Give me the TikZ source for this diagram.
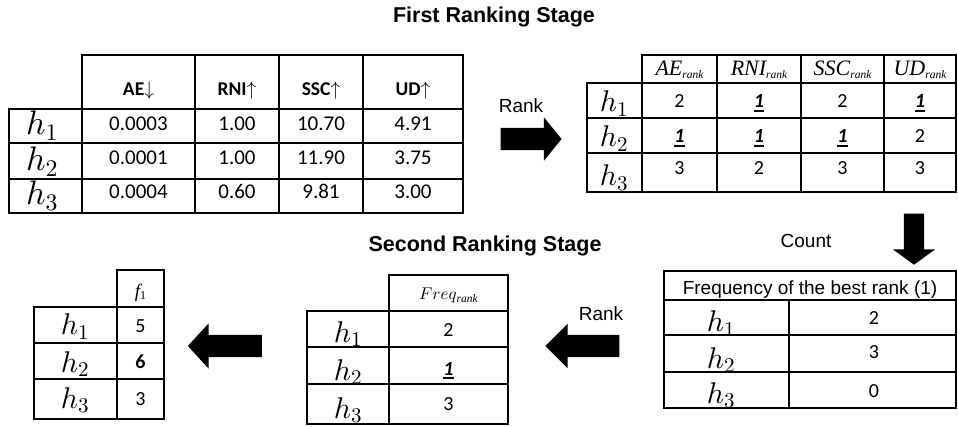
\documentclass[tikz,border=0pt]{standalone}
\usepackage[no-math]{fontspec}
\setmainfont{Carlito}
\newfontfamily\arial{Liberation Sans}
\newfontfamily\tnr{Liberation Serif}
\DeclareFontShape{OML}{cmm}{m}{it}{<->cmmi10}{}
\DeclareFontShape{OT1}{cmr}{m}{n}{<->cmr10}{}
\DeclareFontShape{OMS}{cmsy}{m}{n}{<->cmsy10}{}
\DeclareFontShape{OMX}{cmex}{m}{n}{<->cmex10}{}
\usetikzlibrary{shapes.arrows}
\newcommand\bul[1]{\leavevmode\setbox0=\hbox{\bfseries\itshape #1}\vtop{\copy0\kern1.8pt\hrule height 2pt width \wd0}}
\newcommand\rsub[1]{\raisebox{-3pt}{\tnr\itshape\fontsize{11.5}{12}\selectfont #1}}
\begin{document}
\begin{tikzpicture}[x=1pt,y=-1pt,
  tbl/.style={line width=1.7pt, line cap=rect},
  num/.style={font=\fontsize{21}{21}\selectfont, anchor=base, inner sep=0},
  snum/.style={font=\fontsize{20}{20}\selectfont, anchor=base, inner sep=0},
  hbig/.style={font=\fontsize{34}{34}\selectfont, anchor=base, inner sep=0},
  hh/.style={font=\fontsize{30}{30}\selectfont, anchor=base, inner sep=0},
  hd/.style={font=\fontsize{19.5}{20}\selectfont\bfseries, anchor=base, inner sep=0},
  th/.style={font=\tnr\itshape\fontsize{22}{22}\selectfont, anchor=base, inner sep=0},
  lab/.style={font=\arial\fontsize{19}{19}\selectfont, anchor=base, inner sep=0},
  ttl/.style={font=\arial\bfseries\fontsize{21.5}{22}\selectfont, anchor=base, inner sep=0},
  blk/.style={single arrow, fill=black, draw=none, inner xsep=0pt, inner ysep=11pt, single arrow head extend=10.5pt}]
\useasboundingbox (0,0) rectangle (958,427);

% titles
\node[ttl] (title1) at (494,23) {First Ranking Stage};
\node[ttl] (title2) at (485,252) {Second Ranking Stage};

% ---------- Table 1 ----------
\draw[tbl] (82,55) -- (463,55);
\foreach \y in {109,143,179,213} \draw[tbl] (9,\y) -- (463,\y);
\draw[tbl] (9,109) -- (9,213);
\foreach \x in {82,195,279,363,463} \draw[tbl] (\x,55) -- (\x,213);
\node[hd] (t1ae) at (138.5,96) {AE$\downarrow$};
\node[hd] (t1rni) at (237,96) {RNI$\uparrow$};
\node[hd] (t1ssc) at (321,96) {SSC$\uparrow$};
\node[hd] (t1ud) at (413,96) {UD$\uparrow$};
\node[hbig] (t1h1) at (42,135) {$h_1$};
\node[hbig] (t1h2) at (42,171) {$h_2$};
\node[hbig] (t1h3) at (42,205) {$h_3$};
\node[num] (t1a1) at (138.5,131) {0.0003};
\node[num] (t1b1) at (237,131) {1.00};
\node[num] (t1c1) at (321,131) {10.70};
\node[num] (t1d1) at (413,131) {4.91};
\node[num] (t1a2) at (138.5,165) {0.0001};
\node[num] (t1b2) at (237,165) {1.00};
\node[num] (t1c2) at (321,165) {11.90};
\node[num] (t1d2) at (413,165) {3.75};
\node[num] (t1a3) at (138.5,199) {0.0004};
\node[num] (t1b3) at (237,199) {0.60};
\node[num] (t1c3) at (321,199) {9.81};
\node[num] (t1d3) at (413,199) {3.00};

% ---------- Arrow 1 (right) ----------
\node[lab] (rank1) at (521,113) {Rank};
\node[blk, minimum height=61pt, single arrow tip angle=102] (arrR) at (526.5,139) {};

% ---------- Table 2 ----------
\draw[tbl] (642,55) -- (956,55);
\foreach \y in {83,118,153,192} \draw[tbl] (587,\y) -- (956,\y);
\draw[tbl] (587,83) -- (587,192);
\foreach \x in {642,717,801,884,956} \draw[tbl] (\x,55) -- (\x,192);
\node[th] (t2ae) at (679.5,76) {AE\rsub{rank}};
\node[th] (t2rni) at (759,76) {RNI\rsub{rank}};
\node[th] (t2ssc) at (842.5,76) {SSC\rsub{rank}};
\node[th] (t2ud) at (920,76) {UD\rsub{rank}};
\node[hh] (t2h1) at (614,112) {$h_1$};
\node[hh] (t2h2) at (614,147) {$h_2$};
\node[hh] (t2h3) at (614,186) {$h_3$};
\node[snum] (t2a1) at (679.5,108) {2};
\node[snum] (t2b1) at (759,108) {\bul{1}};
\node[snum] (t2c1) at (842.5,108) {2};
\node[snum] (t2d1) at (920,108) {\bul{1}};
\node[snum] (t2a2) at (679.5,143) {\bul{1}};
\node[snum] (t2b2) at (759,143) {\bul{1}};
\node[snum] (t2c2) at (842.5,143) {\bul{1}};
\node[snum] (t2d2) at (920,143) {2};
\node[snum] (t2a3) at (679.5,175) {3};
\node[snum] (t2b3) at (759,175) {2};
\node[snum] (t2c3) at (842.5,175) {3};
\node[snum] (t2d3) at (920,175) {3};

% ---------- Arrow 2 (down) ----------
\node[lab] (count) at (806,248) {Count};
\node[blk, minimum height=51pt, inner ysep=10pt, single arrow head extend=11pt, single arrow tip angle=108, rotate=-90] (arrD) at (914,235.5) {};

% ---------- Table 3 ----------
\draw[tbl] (664,271) rectangle (956,408);
\foreach \y in {300,335,372} \draw[tbl] (664,\y) -- (956,\y);
\draw[tbl] (789,300) -- (789,408);
\node[lab] (t3head) at (810,295) {Frequency of the best rank (1)};
\node[hh] (t3h1) at (721,332) {$h_1$};
\node[hh] (t3h2) at (721,368) {$h_2$};
\node[hh] (t3h3) at (721,403) {$h_3$};
\node[snum] (t3v1) at (874,325) {2};
\node[snum] (t3v2) at (874,359) {3};
\node[snum] (t3v3) at (874,397) {0};

% ---------- Arrow 3 (left) ----------
\node[lab] (rank2) at (601,321) {Rank};
\node[blk, minimum height=74pt, single arrow head extend=11pt, single arrow tip angle=90, rotate=180] (arrL1) at (588,346) {};

% ---------- Table 4 ----------
\draw[tbl] (389,275) -- (508,275);
\foreach \y in {311,347,384,424} \draw[tbl] (307,\y) -- (508,\y);
\draw[tbl] (307,311) -- (307,424);
\foreach \x in {389,508} \draw[tbl] (\x,275) -- (\x,424);
\node[anchor=base, inner sep=0, font=\fontsize{17}{17}\selectfont] (t4head) at (448.5,300) {$Freq$\rsub{rank}};
\node[hh] (t4h1) at (348,342) {$h_1$};
\node[hh] (t4h2) at (348,380) {$h_2$};
\node[hh] (t4h3) at (348,418) {$h_3$};
\node[snum] (t4v1) at (448.5,337) {2};
\node[snum] (t4v2) at (448.5,375) {\bul{1}};
\node[snum] (t4v3) at (448.5,410) {3};

% ---------- Arrow 4 (left) ----------
\node[blk, minimum height=74pt, single arrow head extend=11.5pt, single arrow tip angle=95, rotate=180] (arrL2) at (230,346) {};

% ---------- Table 5 ----------
\draw[tbl] (117,270) -- (164,270);
\foreach \y in {307,343,379,419} \draw[tbl] (34,\y) -- (164,\y);
\draw[tbl] (34,307) -- (34,419);
\foreach \x in {117,164} \draw[tbl] (\x,270) -- (\x,419);
\node[anchor=base, inner sep=0] (t5head) at (140.5,298) {{\tnr\itshape\fontsize{19}{19}\selectfont f}\raisebox{-2pt}{\tnr\fontsize{12}{12}\selectfont 1}};
\node[hh] (t5h1) at (75,335) {$h_1$};
\node[hh] (t5h2) at (75,372) {$h_2$};
\node[hh] (t5h3) at (75,408) {$h_3$};
\node[snum] (t5v1) at (140.5,333) {5};
\node[snum, font=\fontsize{20}{20}\selectfont\bfseries] (t5v2) at (140.5,369) {6};
\node[snum] (t5v3) at (140.5,405) {3};
\end{tikzpicture}
\end{document}
